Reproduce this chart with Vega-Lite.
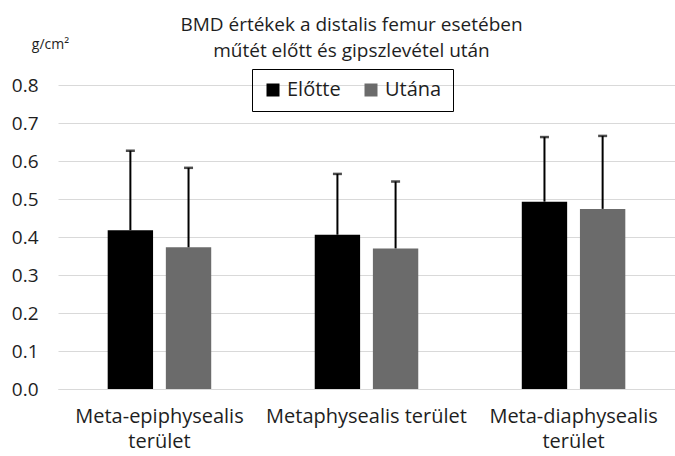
{
  "$schema": "https://vega.github.io/schema/vega-lite/v6.json",
  "width": 617,
  "height": 304,
  "autosize": {"type": "none"},
  "padding": {"left": 58, "top": 85, "right": 0, "bottom": 67},
  "background": "white",
  "config": {
    "font": "Open Sans",
    "view": {"stroke": null}
  },
  "title": {
    "text": ["BMD értékek a distalis femur esetében", "műtét előtt és gipszlevétel után"],
    "fontSize": 19,
    "fontWeight": "normal",
    "font": "Open Sans",
    "color": "#1e1e1e",
    "anchor": "middle",
    "dx": -15,
    "offset": -24,
    "lineHeight": 26
  },
  "data": {
    "values": [
      {"region": "Meta-epiphysealis terület", "group": "Előtte", "value": 0.418, "upper": 0.627},
      {"region": "Meta-epiphysealis terület", "group": "Utána", "value": 0.373, "upper": 0.582},
      {"region": "Metaphysealis terület", "group": "Előtte", "value": 0.406, "upper": 0.566},
      {"region": "Metaphysealis terület", "group": "Utána", "value": 0.370, "upper": 0.546},
      {"region": "Meta-diaphysealis terület", "group": "Előtte", "value": 0.493, "upper": 0.663},
      {"region": "Meta-diaphysealis terület", "group": "Utána", "value": 0.474, "upper": 0.666}
    ]
  },
  "encoding": {
    "x": {
      "field": "region",
      "type": "nominal",
      "sort": ["Meta-epiphysealis terület", "Metaphysealis terület", "Meta-diaphysealis terület"],
      "scale": {"paddingInner": 0.5, "paddingOuter": 0.24},
      "axis": {
        "title": null,
        "labelAngle": 0,
        "labelFontSize": 20,
        "labelColor": "#1e1e1e",
        "labelPadding": 17,
        "labelLineHeight": 25,
        "labelLimit": 300,
        "labelExpr": "datum.label == 'Metaphysealis terület' ? datum.label : split(datum.label, ' ')",
        "ticks": false,
        "domain": true,
        "domainColor": "#d9d9d9",
        "domainWidth": 1
      }
    },
    "xOffset": {
      "field": "group",
      "type": "nominal",
      "sort": ["Előtte", "Utána"],
      "scale": {"paddingInner": 0.22, "paddingOuter": 0}
    }
  },
  "layer": [
    {
      "mark": {"type": "bar"},
      "encoding": {
        "y": {
          "field": "value",
          "type": "quantitative",
          "scale": {"domain": [0, 0.8], "nice": false},
          "axis": {
            "values": [0, 0.1, 0.2, 0.3, 0.4, 0.5, 0.6, 0.7, 0.8],
            "format": ".1f",
            "labelFontSize": 19,
            "labelColor": "#1e1e1e",
            "labelPadding": 20,
            "ticks": false,
            "domain": false,
            "gridColor": "#d9d9d9",
            "gridWidth": 1,
            "title": "g/cm²",
            "titleAngle": 0,
            "titleFontSize": 14,
            "titleFontWeight": "normal",
            "titleColor": "#1e1e1e",
            "titleAlign": "center",
            "titleBaseline": "middle",
            "titleX": -8,
            "titleY": -41
          }
        },
        "color": {
          "field": "group",
          "type": "nominal",
          "scale": {"domain": ["Előtte", "Utána"], "range": ["#000000", "#6b6b6b"]},
          "legend": {
            "title": null,
            "orient": "none",
            "direction": "horizontal",
            "legendX": 194,
            "legendY": -16,
            "strokeColor": "#000000",
            "padding": 11,
            "symbolType": "square",
            "symbolSize": 169,
            "symbolStrokeWidth": 0,
            "symbolOpacity": 1,
            "labelFontSize": 20,
            "labelColor": "#1e1e1e",
            "labelOffset": 4,
            "columnPadding": 20
          }
        }
      }
    },
    {
      "mark": {"type": "rule", "color": "#000000", "strokeWidth": 2},
      "encoding": {
        "y": {
          "field": "value",
          "type": "quantitative",
          "scale": {"domain": [0, 0.8], "nice": false},
          "axis": {
            "values": [0, 0.1, 0.2, 0.3, 0.4, 0.5, 0.6, 0.7, 0.8],
            "format": ".1f",
            "labelFontSize": 19,
            "labelColor": "#1e1e1e",
            "labelPadding": 20,
            "ticks": false,
            "domain": false,
            "gridColor": "#d9d9d9",
            "gridWidth": 1,
            "title": "g/cm²",
            "titleAngle": 0,
            "titleFontSize": 14,
            "titleFontWeight": "normal",
            "titleColor": "#1e1e1e",
            "titleAlign": "center",
            "titleBaseline": "middle",
            "titleX": -8,
            "titleY": -41
          }
        },
        "y2": {"field": "upper"}
      }
    },
    {
      "mark": {"type": "tick", "color": "#000000", "thickness": 2.5, "size": 9},
      "encoding": {
        "y": {
          "field": "upper",
          "type": "quantitative",
          "scale": {"domain": [0, 0.8], "nice": false},
          "axis": {
            "values": [0, 0.1, 0.2, 0.3, 0.4, 0.5, 0.6, 0.7, 0.8],
            "format": ".1f",
            "labelFontSize": 19,
            "labelColor": "#1e1e1e",
            "labelPadding": 20,
            "ticks": false,
            "domain": false,
            "gridColor": "#d9d9d9",
            "gridWidth": 1,
            "title": "g/cm²",
            "titleAngle": 0,
            "titleFontSize": 14,
            "titleFontWeight": "normal",
            "titleColor": "#1e1e1e",
            "titleAlign": "center",
            "titleBaseline": "middle",
            "titleX": -8,
            "titleY": -41
          }
        }
      }
    }
  ]
}
